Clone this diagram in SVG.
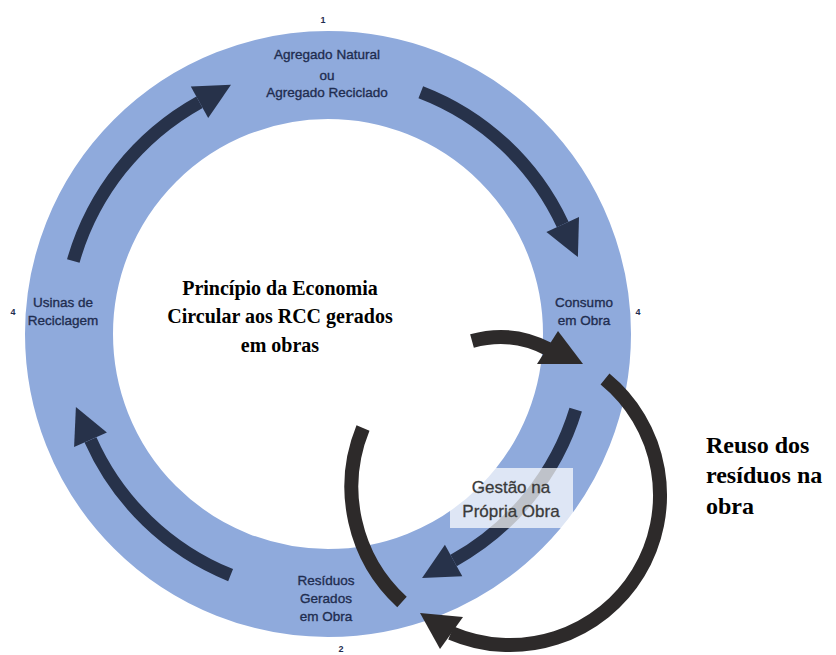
<svg xmlns="http://www.w3.org/2000/svg" width="836" height="655" viewBox="0 0 836 655">
<style>
.lbl{font-family:"Liberation Sans",Arial,sans-serif;font-size:13.5px;fill:#1f2d50;stroke:#1f2d50;stroke-width:0.35;text-anchor:middle}
.num{font-family:"Liberation Sans",Arial,sans-serif;font-size:9px;font-weight:bold;fill:#1f2d50;text-anchor:middle}
.title{font-family:"Liberation Serif","Times New Roman",serif;font-weight:bold;fill:#000}
.navy{fill:none;stroke:#27324a;stroke-width:13}
.navyh{fill:#27324a}
.blk{fill:none;stroke:#2d2a2a;stroke-width:14}
.blkh{fill:#2d2a2a}
.gst{font-family:"Liberation Sans",Arial,sans-serif;font-size:17px;fill:#3a3a3a;stroke:#3a3a3a;stroke-width:0.3;text-anchor:middle}
</style>
<rect width="836" height="655" fill="#fff"/>
<g id="ring">
<circle cx="328" cy="334" r="259" fill="none" stroke="#8faadc" stroke-width="88"/>
</g>
<g id="connectors">
<path class="navy" d="M73.3 261 A265 265 0 0 1 199.5 102.2"/>
<polygon class="navyh" points="190.8,86.5 208.2,117.9 231,84.7"/>
<path class="navy" d="M420.8 92.2 A259 259 0 0 1 562.7 224.5"/>
<polygon class="navyh" points="579,216.9 546.4,232.1 577.9,257.1"/>
<path class="navy" d="M575.7 409.7 A259 259 0 0 1 453.6 560.5"/>
<polygon class="navyh" points="462.3,576.2 444.9,544.8 422.1,578"/>
<path class="navy" d="M230.6 575.1 A260 260 0 0 1 90.5 439.8"/>
<polygon class="navyh" points="74.1,447.1 106.9,432.5 75.9,406.9"/>
<path class="blk" d="M472 341 Q512 330 548 349"/>
<polygon class="blkh" points="537,364 558,331 583,364"/>
<path class="blk" d="M605 379 A150 150 0 0 1 451 633"/>
<polygon class="blkh" points="420,613 463,617 440,649"/>
<path class="blk" d="M363 428 A156 156 0 0 0 402 602"/>
</g>
<g id="gestao">
<rect x="450" y="468" width="123" height="60" fill="#fff" fill-opacity="0.7"/>
<text class="gst" x="511" y="493">Gestão na</text>
<text class="gst" x="511" y="517">Própria Obra</text>
</g>
<g id="node1">
<text class="num" x="323" y="23">1</text>
<text class="lbl" x="327" y="59">Agregado Natural</text>
<text class="lbl" x="327" y="80">ou</text>
<text class="lbl" x="327" y="97">Agregado Reciclado</text>
</g>
<g id="node4a">
<text class="num" x="13" y="315">4</text>
<text class="lbl" x="63" y="307">Usinas de</text>
<text class="lbl" x="63" y="325">Reciclagem</text>
</g>
<g id="node4b">
<text class="num" x="638" y="315">4</text>
<text class="lbl" x="584" y="307">Consumo</text>
<text class="lbl" x="584" y="325">em Obra</text>
</g>
<g id="node2">
<text class="lbl" x="326" y="585">Resíduos</text>
<text class="lbl" x="326" y="603">Gerados</text>
<text class="lbl" x="326" y="621">em Obra</text>
<text class="num" x="341" y="652">2</text>
</g>
<g id="title">
<text class="title" font-size="20" text-anchor="middle" x="280" y="295">Princípio da Economia</text>
<text class="title" font-size="20" text-anchor="middle" x="280" y="323">Circular aos RCC gerados</text>
<text class="title" font-size="20" text-anchor="middle" x="280" y="352">em obras</text>
</g>
<g id="reuso">
<text class="title" font-size="24" x="706" y="453">Reuso dos</text>
<text class="title" font-size="24" x="706" y="483">resíduos na</text>
<text class="title" font-size="24" x="706" y="514">obra</text>
</g>
</svg>
